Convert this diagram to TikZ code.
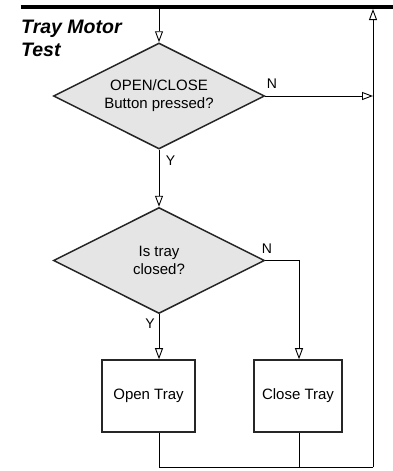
\documentclass[tikz,border=0pt]{standalone}
\usepackage{fontspec}
\setmainfont{Liberation Sans}
\usetikzlibrary{shapes.geometric,arrows.meta}
\begin{document}
\begin{tikzpicture}[x=1pt,y=-1pt,
  dec/.style={diamond, aspect=1.99, draw=black!85, line width=1.5pt, fill=black!10,
    minimum width=211pt, minimum height=106pt, inner sep=0pt, align=center,
    font=\fontsize{15}{18}\selectfont},
  proc/.style={rectangle, draw=black!85, line width=1.6pt, align=center,
    inner sep=0pt, font=\fontsize{15}{18}\selectfont},
  conn/.style={line width=0.8pt, -{Triangle[open,length=11pt,width=8pt,line width=0.9pt]}},
  line/.style={line width=0.8pt},
  lbl/.style={font=\fontsize{14}{15}\selectfont, inner sep=0pt},
  ttl/.style={font=\fontsize{19.5}{23}\selectfont\bfseries\itshape, align=left, inner sep=0pt, anchor=base west}
]
\useasboundingbox (0,0) rectangle (393,471);
\coordinate (barL) at (20.5,6.8);
\coordinate (barR) at (393,6.8);
\draw[line width=4.3pt] (barL) -- (barR);
\node[ttl] (title) at (21,56.5) {Tray Motor\\Test};

\node[dec] (d1) at (159,96) {OPEN/CLOSE\\Button pressed?};
\node[dec] (d2) at (159,260.5) {Is tray\\closed?};
\node[proc, minimum width=93pt, minimum height=72pt] (open) at (148.5,396) {Open Tray};
\node[proc, minimum width=88pt, minimum height=72pt] (close) at (298,396) {Close Tray};

\coordinate (topIn) at (159,9);
\coordinate (topOut) at (373,9);
\coordinate (rightIn) at (373,96);
\coordinate (bl) at (159,467.3);
\coordinate (br) at (373,467.3);
\coordinate (nb) at (299,260.5);
\coordinate (cb) at (299,467.3);

\draw[conn] (topIn) -- (d1.north);
\draw[conn] (d1.east) -- (rightIn);
\draw[conn] (d1.south) -- (d2.north);
\draw[conn] (d2.south) -- (d2.south |- open.north);
\draw[conn] (d2.east) -- (nb) -- (nb |- close.north);
\draw[line] (bl |- open.south) -- (bl) -- (br);
\draw[conn] (br) -- (topOut);
\draw[line] (nb |- close.south) -- (cb);

\node[lbl] (n1) at (272,83.5) {N};
\node[lbl] (y1) at (170.5,161) {Y};
\node[lbl] (n2) at (267,249) {N};
\node[lbl] (y2) at (150,323.5) {Y};
\end{tikzpicture}
\end{document}
